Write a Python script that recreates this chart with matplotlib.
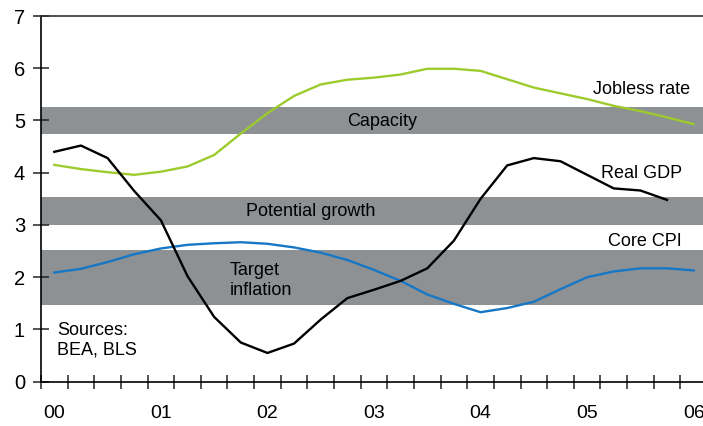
import numpy as np
import matplotlib
matplotlib.use("Agg")
import matplotlib.pyplot as plt

plt.rcParams['font.family'] = ['Liberation Sans', 'DejaVu Sans']

# quarterly series, 2000Q1 onwards (percent)
jobless_rate = [4.15, 4.07, 4.01, 3.96, 4.02, 4.12, 4.34, 4.75, 5.14, 5.47,
                5.69, 5.78, 5.82, 5.88, 5.99, 5.99, 5.95, 5.79, 5.63, 5.52,
                5.41, 5.28, 5.18, 5.06, 4.93]
real_gdp = [4.40, 4.52, 4.28, 3.65, 3.09, 2.02, 1.24, 0.75, 0.55, 0.73,
            1.19, 1.60, 1.76, 1.93, 2.17, 2.70, 3.50, 4.14, 4.28, 4.22,
            3.96, 3.70, 3.66, 3.48]
core_cpi = [2.09, 2.16, 2.29, 2.44, 2.55, 2.62, 2.65, 2.67, 2.64, 2.57,
            2.47, 2.33, 2.14, 1.93, 1.67, 1.49, 1.33, 1.41, 1.53, 1.77,
            2.00, 2.11, 2.17, 2.17, 2.13]

year_labels = ['00', '01', '02', '03', '04', '05', '06']

# shaded reference ranges
capacity = (4.75, 5.25)
potential_growth = (3.0, 3.53)
target_inflation = (1.47, 2.52)

GREEN = '#9dcb2e'
BLUE = '#1677c6'
GREY = '#8d9193'

fig = plt.figure(figsize=(7.03, 4.26), dpi=100)
ax = fig.add_axes([41 / 703, 44.3 / 426, 1 - 41 / 703 + 0.003, 365.7 / 426])

for lo, hi in (capacity, potential_growth, target_inflation):
    ax.axhspan(lo, hi, color=GREY, lw=0, zorder=1)

def qx(series):
    return np.arange(len(series)) + 0.5

ax.plot(qx(jobless_rate), jobless_rate, color=GREEN, lw=1.7, zorder=3)
ax.plot(qx(core_cpi), core_cpi, color=BLUE, lw=1.7, zorder=3)
ax.plot(qx(real_gdp), real_gdp, color='black', lw=1.7, zorder=4)

fs = 13
ax.text(24.37, 5.60, 'Jobless rate', ha='right', va='center', fontsize=fs, zorder=5)
ax.text(24.07, 3.98, 'Real GDP', ha='right', va='center', fontsize=fs, zorder=5)
ax.text(24.07, 2.68, 'Core CPI', ha='right', va='center', fontsize=fs, zorder=5)
ax.text(11.51, 4.98, 'Capacity', ha='left', va='center', fontsize=fs, zorder=5)
ax.text(7.68, 3.25, 'Potential growth', ha='left', va='center', fontsize=fs, zorder=5)
ax.text(7.09, 1.94, 'Target\ninflation', ha='left', va='center', fontsize=fs,
        linespacing=1.2, zorder=5)
ax.text(0.61, 0.80, 'Sources:\nBEA, BLS', ha='left', va='center', fontsize=fs,
        linespacing=1.2, zorder=5)

ax.set_xlim(0, 24.93)
ax.set_ylim(0, 7)

# quarter ticks, year labels centred on first quarter
ax.set_xticks(np.arange(0, 25))
ax.set_xticklabels([])
ax.set_xticks(np.arange(len(year_labels)) * 4 + 0.5, minor=True)
ax.set_xticklabels(year_labels, minor=True)
ax.set_yticks(range(0, 8))

ax.tick_params(axis='x', which='major', direction='inout', length=10, width=1.1,
               color='#222222')
ax.tick_params(axis='x', which='minor', length=0, pad=16.5, labelsize=14)
ax.tick_params(axis='y', direction='inout', length=11, width=1.1, color='#222222',
               pad=6, labelsize=14.5)

ax.spines['right'].set_visible(False)
ax.spines['top'].set_color('#333333')
ax.spines['top'].set_linewidth(1.2)
for s in ('left', 'bottom'):
    ax.spines[s].set_linewidth(1.2)
    ax.spines[s].set_color('black')

fig.savefig('out.png', dpi=100)
